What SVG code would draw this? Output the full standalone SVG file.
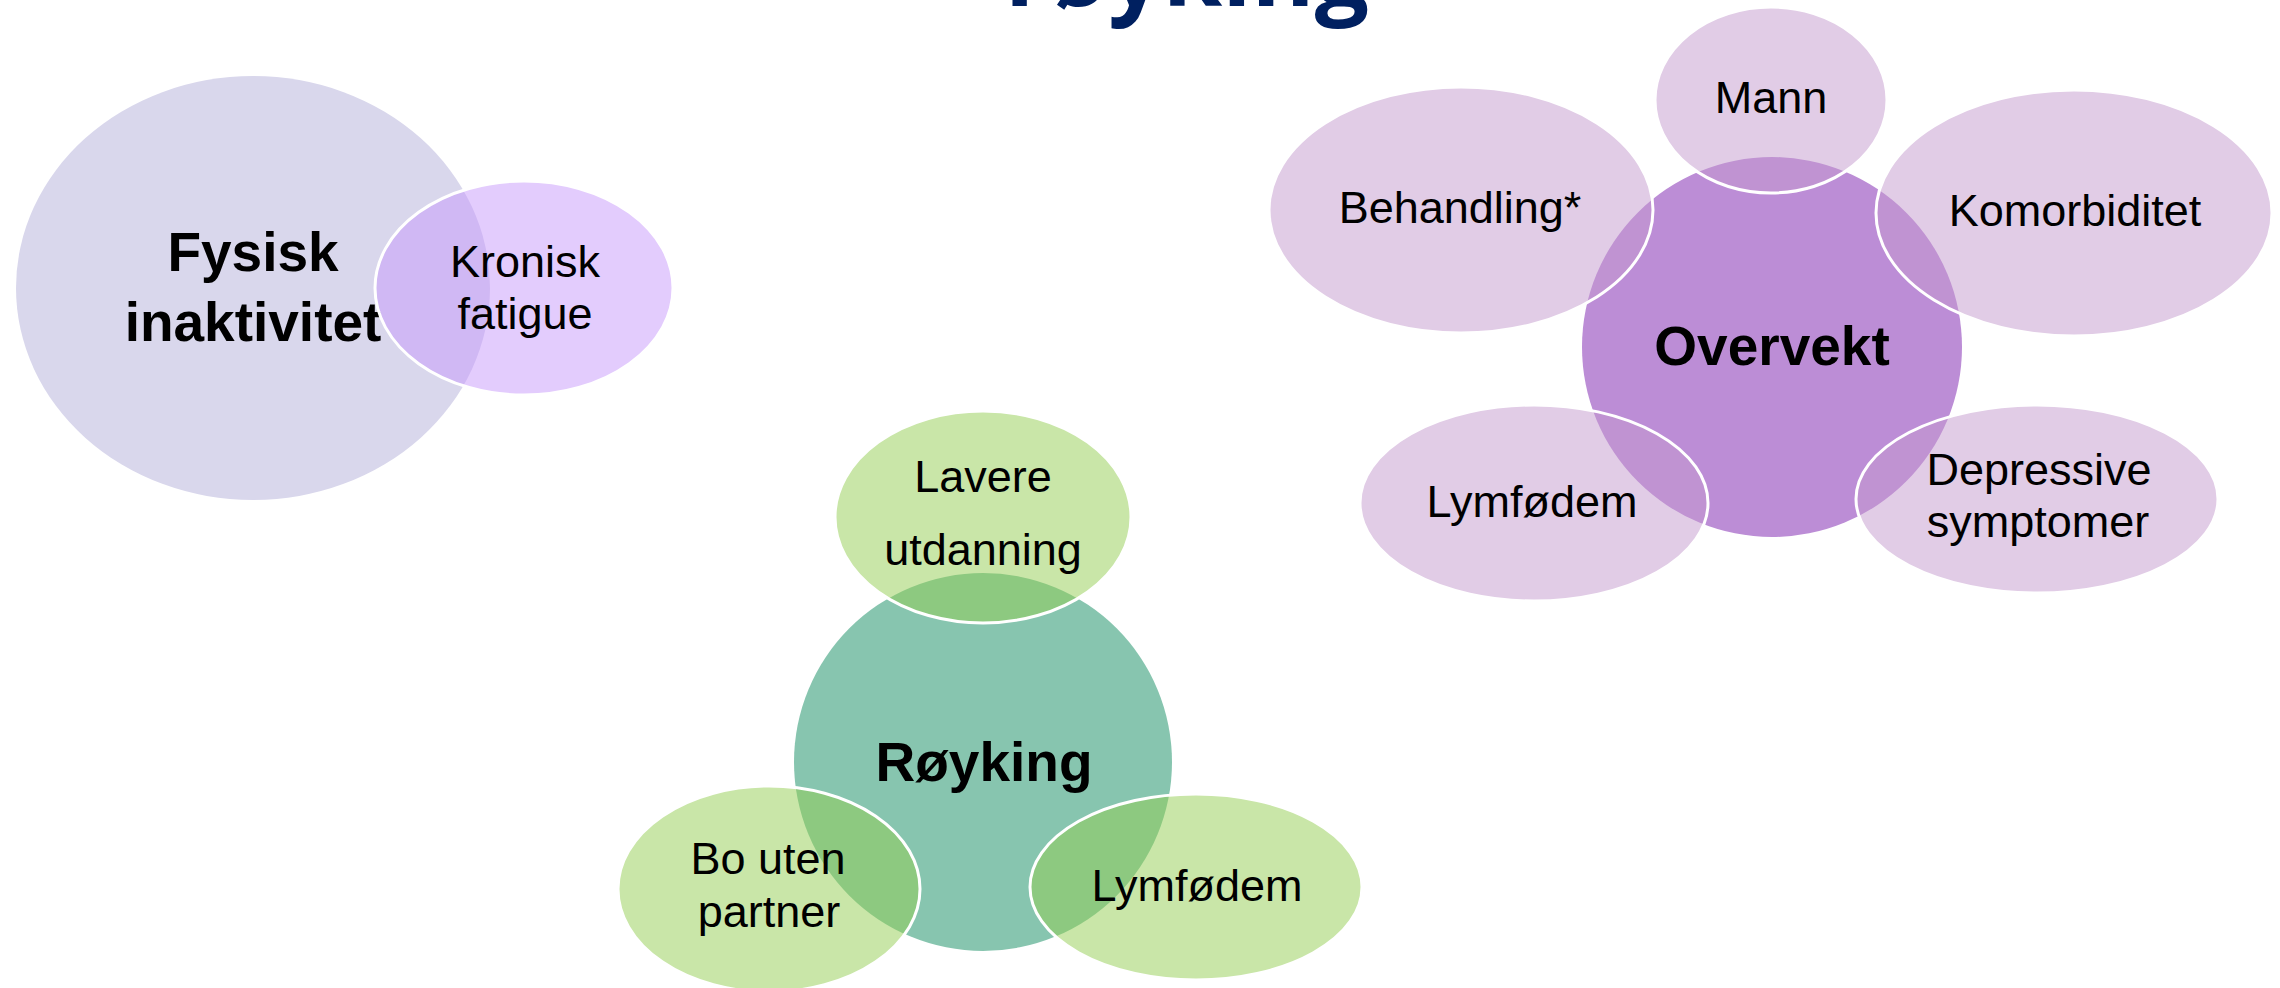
<svg xmlns="http://www.w3.org/2000/svg" width="2280" height="988" viewBox="0 0 2280 988">
<style>
.lbl{font-family:"Liberation Sans",Arial,sans-serif;font-size:45px;fill:#000;text-anchor:middle}
.hub{font-family:"Liberation Sans",Arial,sans-serif;font-size:55px;font-weight:bold;fill:#000;text-anchor:middle}
.title{font-family:"Open Sans","Liberation Sans",sans-serif;font-size:96px;font-weight:bold;fill:#002060;text-anchor:middle}
.sat{stroke:#fff;stroke-width:3}
.satP{fill:#C399CD;fill-opacity:0.5}
.satG{fill:#93CD51;fill-opacity:0.5}
.satV{fill:#C799FB;fill-opacity:0.5}
</style>
<rect width="2280" height="988" fill="#fff"/>
<text class="title" x="1187" y="6">røyking</text>

<g id="connectors"></g>

<!-- Fysisk inaktivitet cluster -->
<g id="fysisk-inaktivitet">
<ellipse cx="253" cy="288" rx="237" ry="212" fill="#D9D7EC"/>
<text class="hub" x="253" y="271">Fysisk</text>
<text class="hub" x="253" y="341">inaktivitet</text>
</g>
<g id="kronisk-fatigue">
<ellipse class="sat satV" cx="524" cy="288" rx="149" ry="107"/>
<text class="lbl" x="525" y="277">Kronisk</text>
<text class="lbl" x="525" y="329">fatigue</text>
</g>

<!-- Røyking cluster -->
<g id="royking">
<ellipse cx="983" cy="762" rx="189" ry="189" fill="#87C5AF"/>
<text class="hub" x="984" y="781">Røyking</text>
</g>
<g id="lavere-utdanning">
<ellipse class="sat satG" cx="983" cy="517" rx="148" ry="106"/>
<text class="lbl" x="983" y="492">Lavere</text>
<text class="lbl" x="983" y="565">utdanning</text>
</g>
<g id="bo-uten-partner">
<ellipse class="sat satG" cx="769" cy="889" rx="151" ry="103"/>
<text class="lbl" x="768" y="874">Bo uten</text>
<text class="lbl" x="769" y="927">partner</text>
</g>
<g id="lymfodem-royking">
<ellipse class="sat satG" cx="1196" cy="887" rx="166" ry="93"/>
<text class="lbl" x="1197" y="901">Lymfødem</text>
</g>

<!-- Overvekt cluster -->
<g id="overvekt">
<ellipse cx="1772" cy="347" rx="190" ry="190" fill="#BC8DD6"/>
<text class="hub" x="1772" y="365">Overvekt</text>
</g>
<g id="mann">
<ellipse class="sat satP" cx="1771" cy="100" rx="116" ry="93"/>
<text class="lbl" x="1771" y="113">Mann</text>
</g>
<g id="behandling">
<ellipse class="sat satP" cx="1461" cy="210" rx="192" ry="123"/>
<text class="lbl" x="1460" y="223">Behandling*</text>
</g>
<g id="komorbiditet">
<ellipse class="sat satP" cx="2074" cy="213" rx="198" ry="123"/>
<text class="lbl" x="2075" y="226">Komorbiditet</text>
</g>
<g id="lymfodem-overvekt">
<ellipse class="sat satP" cx="1534" cy="503" rx="174" ry="98"/>
<text class="lbl" x="1532" y="517">Lymfødem</text>
</g>
<g id="depressive-symptomer">
<ellipse class="sat satP" cx="2037" cy="499" rx="181" ry="94"/>
<text class="lbl" x="2039" y="485">Depressive</text>
<text class="lbl" x="2038" y="537">symptomer</text>
</g>
</svg>
